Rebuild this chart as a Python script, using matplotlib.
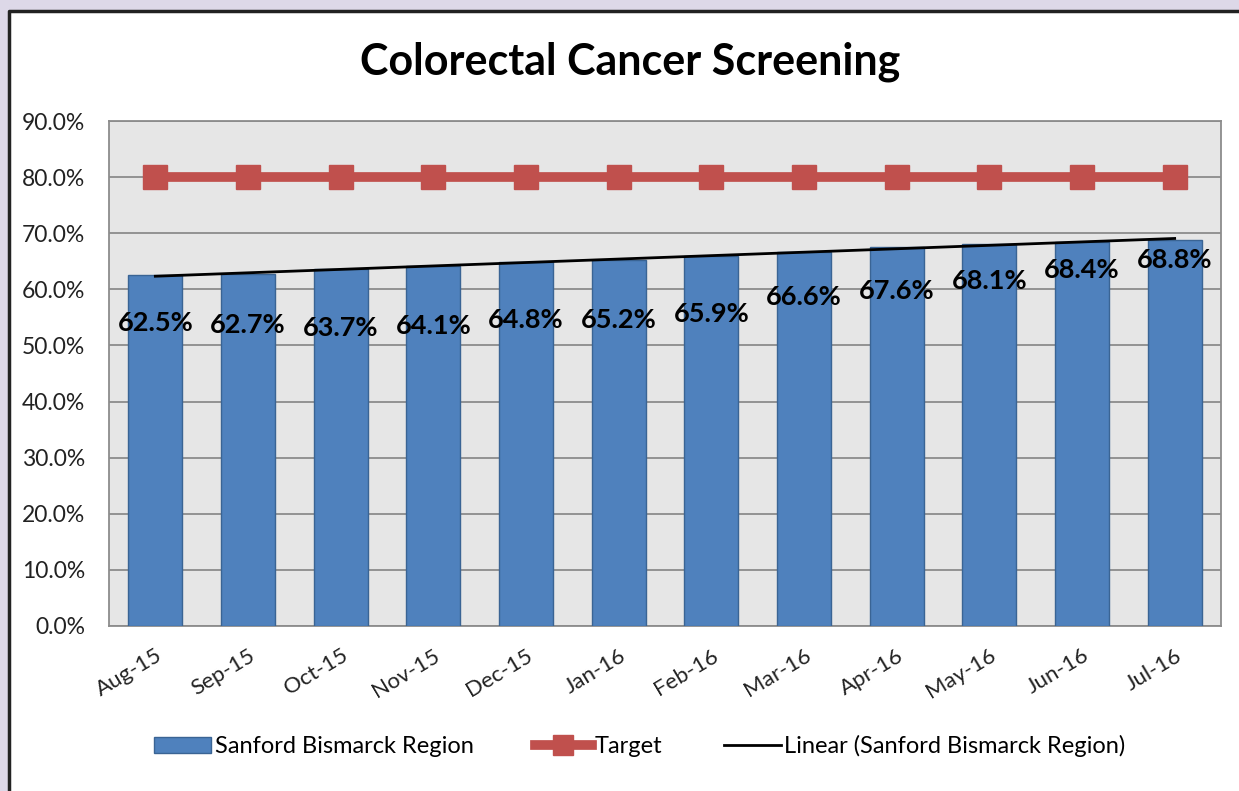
import matplotlib
matplotlib.use("Agg")
import matplotlib.pyplot as plt
import numpy as np
from matplotlib.patches import Rectangle
from matplotlib.lines import Line2D
from matplotlib.patches import Patch

months = ["Aug-15", "Sep-15", "Oct-15", "Nov-15", "Dec-15", "Jan-16",
          "Feb-16", "Mar-16", "Apr-16", "May-16", "Jun-16", "Jul-16"]
region = [62.5, 62.7, 63.7, 64.1, 64.8, 65.2, 65.9, 66.6, 67.6, 68.1, 68.4, 68.8]
target = [80.0] * 12
label_y = [54.0, 53.6, 53.1, 53.5, 54.5, 54.5, 55.6, 58.6, 59.7, 61.5, 63.4, 65.2]
yticks = [0, 10, 20, 30, 40, 50, 60, 70, 80, 90]

plt.rcParams['font.family'] = ['Lato', 'DejaVu Sans']

W, H = 1239, 791
fig = plt.figure(figsize=(W / 100, H / 100), dpi=100)
fig.patch.set_facecolor('#ddd8e8')

# white chart box with dark border on left and top
bx, by = 9 / W, 1 - 11 / H
box = Rectangle((bx, -0.1), 1.2, by + 0.1, transform=fig.transFigure,
                facecolor='white', edgecolor='none', linewidth=0, zorder=-5)
fig.patches.append(box)
fig.add_artist(Line2D([bx, bx, 1.2], [-0.1, by, by], transform=fig.transFigure,
                      color='#222222', linewidth=2.5, zorder=-4))

left, right, top, bottom = 109, 1221, 121, 626
ax = fig.add_axes([left / W, 1 - bottom / H, (right - left) / W, (bottom - top) / H])
ax.set_facecolor('#e6e6e6')

x = np.arange(len(months))
ax.bar(x, region, width=0.58, color='#4f81bd', edgecolor='#3a6494', linewidth=1.0, zorder=3)
ax.plot(x, target, color='#c0504d', linewidth=7, marker='s', markersize=17,
        markerfacecolor='#c0504d', markeredgecolor='#c0504d', zorder=4)

coef = np.polyfit(x, region, 1)
ax.plot(x, np.polyval(coef, x), color='black', linewidth=2, zorder=5)

for xi, v, ly in zip(x, region, label_y):
    ax.text(xi, ly, f"{v:.1f}%", ha='center', va='center', fontsize=19.5,
            fontweight='bold', color='black', zorder=6)

ax.set_xlim(-0.5, len(months) - 0.5)
ax.set_ylim(0, 90)
ax.set_yticks(yticks)
ax.set_yticklabels([f"{t:.1f}%" for t in yticks], fontsize=16.5, color='#222222')
ax.set_xticks(x)
ax.set_xticklabels(months, rotation=31, ha='right', rotation_mode='anchor',
                   fontsize=16, color='#222222')
ax.tick_params(axis='y', length=0, pad=17)
ax.tick_params(axis='x', length=0, pad=14)
ax.grid(axis='y', color='#8c8c8c', linewidth=1.3, zorder=1)
ax.set_axisbelow(True)
for s in ax.spines.values():
    s.set_color('#8c8c8c')
    s.set_linewidth(1.3)

fig.text(630 / W, 1 - 62 / H, "Colorectal Cancer Screening", ha='center', va='center',
         fontsize=31, fontweight='bold', color='black')

handles = [Patch(facecolor='#4f81bd', edgecolor='#3a6494'),
           Line2D([0], [0], color='#c0504d', linewidth=7, marker='s', markersize=15),
           Line2D([0], [0], color='black', linewidth=2)]
labels = ["Sanford Bismarck Region", "Target", "Linear (Sanford Bismarck Region)"]
fig.legend(handles, labels, loc='center', bbox_to_anchor=(640 / W, 1 - 746 / H),
           ncol=3, frameon=False, fontsize=17, handlelength=2.4, handletextpad=0.15,
           columnspacing=2.6)

fig.savefig("out.png", dpi=100, facecolor=fig.get_facecolor())
